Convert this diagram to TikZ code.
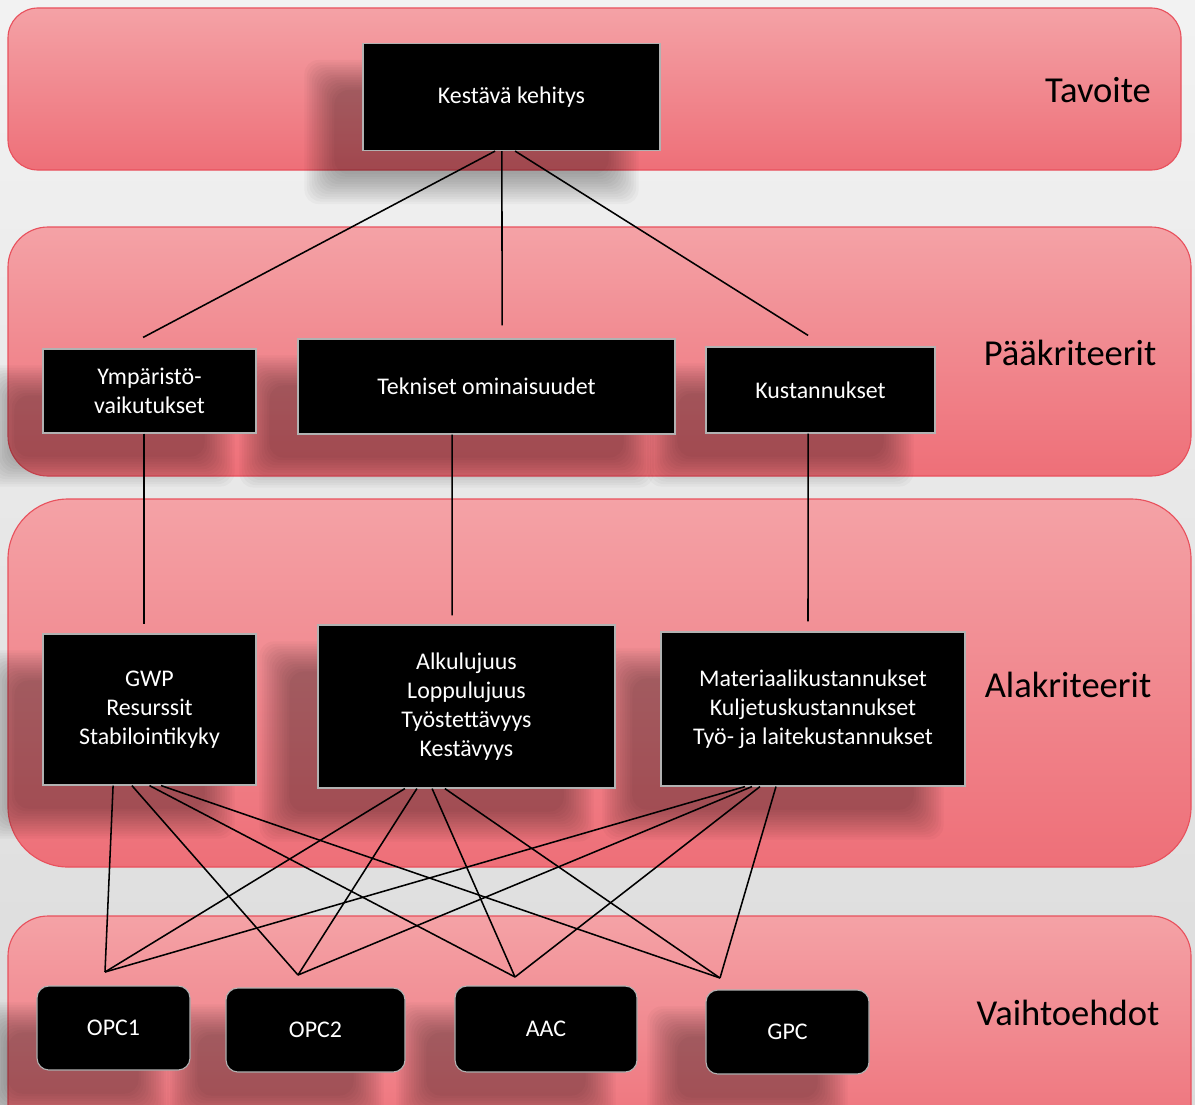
\documentclass[tikz,border=0pt]{standalone}
\usepackage{fontspec}
\setmainfont{Carlito}
\usepackage{tikz}
\definecolor{bandtop}{HTML}{F4A2A6}
\definecolor{bandbot}{HTML}{EE6F78}
\definecolor{bandline}{HTML}{E8515D}
\pgfdeclarelayer{bands}
\pgfdeclarelayer{shadows}
\pgfsetlayers{bands,shadows,main}
\tikzset{
  band/.style={ draw=bandline, line width=0.8pt, top color=bandtop, bottom color=bandbot }
}
\tikzset{
  crit/.style={ draw=gray!60, line width=0.8pt, fill=black, text=white, align=center,
    font=\fontsize{17}{20.6}\selectfont, inner sep=0pt }
}
\tikzset{
  alt/.style={ crit, rounded corners=0.3cm }
}
\tikzset{
  level/.style={ font=\fontsize{26}{30}\selectfont }
}
\tikzset{
  link/.style={ line width=1.1pt }
}
% soft shadow: stacked faint rectangles, shifted left and down
\newcommand{\boxshadow}[1]{%
  \begin{pgfonlayer}{shadows}
    \foreach \d in {0,...,12}
      \fill[black, fill opacity=0.026, rounded corners=10pt]
        ([shift={(-28-2.5*\d,47-2.5*\d)}]#1.north west) rectangle ([shift={(-52+2.5*\d,23+2.5*\d)}]#1.south east);
  \end{pgfonlayer}}

\begin{document}
\begin{tikzpicture}[x=0.025cm, y=-0.025cm]
      \useasboundingbox (0,0) rectangle (1195,1104);
      \clip (0,0) rectangle (1195,1104);
      \begin{pgfonlayer}{bands}
        \shade[top color=white!95!black, bottom color=white!86!black] (0,0) rectangle (1195,1104);
        \draw[band, rounded corners=0.75cm] (8,8) rectangle (1181,170);
        \draw[band, rounded corners=1cm] (8,227) rectangle (1191,476);
        \draw[band, rounded corners=1.5cm] (8,499) rectangle (1191,867);
        \draw[band, rounded corners=1cm] (8,916) rectangle (1191,1150);
      \end{pgfonlayer}
      \node[level] (tavoite) at (1098,90) {Tavoite};
      \node[level] (paa) at (1070,353) {Pääkriteerit};
      \node[level] (ala) at (1068,685) {Alakriteerit};
      \node[level] (vaihto) at (1068,1013) {Vaihtoehdot};
      \node[crit, minimum width=7.425cm, minimum height=2.675cm] (goal) at (511.5,97) {Kestävä kehitys};
      \node[crit, minimum width=5.325cm, minimum height=2.1cm] (env) at (149.5,391) {Ympäristö-\\vaikutukset};
      \node[crit, minimum width=9.425cm, minimum height=2.375cm] (tech) at (486.5,386.5) {Tekniset ominaisuudet};
      \node[crit, minimum width=5.725cm, minimum height=2.15cm] (cost) at (820.5,390) {Kustannukset};
      \node[crit, minimum width=5.325cm, minimum height=3.775cm] (gwp) at (149.5,709.5) {GWP\\Resurssit\\Stabilointikyky};
      \node[crit, minimum width=7.425cm, minimum height=4.075cm] (lujuus) at (466.5,706.5) {Alkulujuus\\Loppulujuus\\Työstettävyys\\Kestävyys};
      \node[crit, minimum width=7.6cm, minimum height=3.85cm] (kust) at (813,709) {Materiaalikustannukset\\Kuljetuskustannukset\\Työ- ja laitekustannukset};
      \node[alt, minimum width=3.825cm, minimum height=2.1cm] (opc1) at (113.5,1028) {OPC1};
      \node[alt, minimum width=4.475cm, minimum height=2.1cm] (opc2) at (315.5,1030) {OPC2};
      \node[alt, minimum width=4.55cm, minimum height=2.15cm] (aac) at (546,1029) {AAC};
      \node[alt, minimum width=4.075cm, minimum height=2.1cm] (gpc) at (787.5,1032) {GPC};
      \foreach \n in {goal,env,tech,cost,gwp,lujuus,kust,opc1,opc2,aac,gpc}
        \boxshadow{\n};
      \coordinate (opc1in) at (105,972);
      \coordinate (opc2in) at (298,975);
      \coordinate (aacin) at (515,977);
      \coordinate (gpcin) at (720,978);
      \draw[link] ([xshift=-0.41cm]goal.south) -- ([xshift=-0.16cm, yshift=0.275cm]env.north);
      \draw[link] ([xshift=-0.24cm]goal.south) -- ([xshift=0.39cm, yshift=0.325cm]tech.north);
      \draw[link] ([xshift=0.09cm]goal.south) -- ([xshift=-0.31cm, yshift=0.275cm]cost.north);
      \draw[link] ([xshift=-0.14cm]env.south) -- ([xshift=-0.14cm, yshift=0.225cm]gwp.north);
      \draw[link] ([xshift=-0.86cm]tech.south) -- ([xshift=-0.36cm, yshift=0.225cm]lujuus.north);
      \draw[link] ([xshift=-0.31cm]cost.south) -- ([xshift=-0.125cm, yshift=0.25cm]kust.north);
      \draw[link] ([xshift=-0.91cm]gwp.south) -- (opc1in);
      \draw[link] ([xshift=-0.44cm]gwp.south) -- (opc2in);
      \draw[link] ([xshift=0cm]gwp.south) -- (aacin);
      \draw[link] ([xshift=0.29cm]gwp.south) -- (gpcin);
      \draw[link] ([xshift=-1.54cm]lujuus.south) -- (opc1in);
      \draw[link] ([xshift=-1.24cm]lujuus.south) -- (opc2in);
      \draw[link] ([xshift=-0.86cm]lujuus.south) -- (aacin);
      \draw[link] ([xshift=-0.54cm]lujuus.south) -- (gpcin);
      \draw[link] ([xshift=-1.7cm]kust.south) -- (opc1in);
      \draw[link] ([xshift=-1.525cm]kust.south) -- (opc2in);
      \draw[link] ([xshift=-1.325cm]kust.south) -- (aacin);
      \draw[link] ([xshift=-0.925cm]kust.south) -- (gpcin);
    \end{tikzpicture}
\end{document}
